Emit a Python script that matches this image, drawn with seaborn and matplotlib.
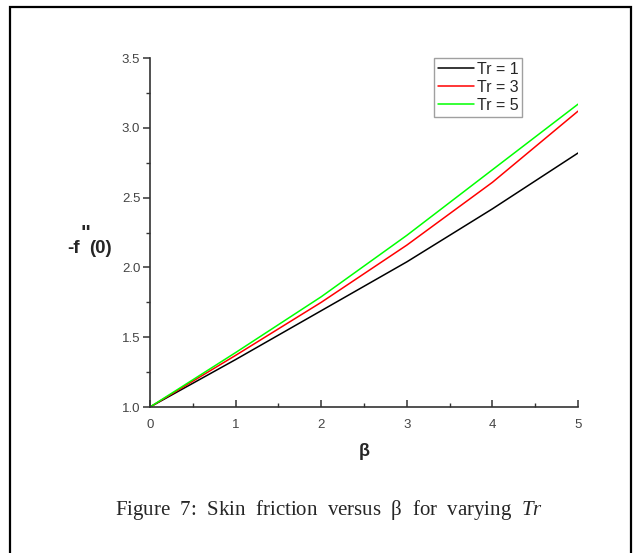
import numpy as np
import pandas as pd
import seaborn as sns
import matplotlib.pyplot as plt
from matplotlib.ticker import MultipleLocator
from matplotlib.patches import Rectangle

# values
beta = [0, 1, 2, 3, 4, 5]
tr1 = [1.00, 1.34, 1.69, 2.04, 2.42, 2.82]
tr3 = [1.00, 1.37, 1.75, 2.16, 2.61, 3.12]
tr5 = [1.00, 1.39, 1.79, 2.23, 2.70, 3.17]
labels = ['Tr = 1', 'Tr = 3', 'Tr = 5']
colors = ['#000000', '#ff0000', '#00ff00']

df = pd.concat([pd.DataFrame({'beta': beta, 'val': v, 'Tr': l})
                for v, l in zip([tr1, tr3, tr5], labels)])

sns.set_style('white')
plt.rcParams['font.family'] = ['Liberation Sans', 'DejaVu Sans']
plt.rcParams['mathtext.fontset'] = 'custom'
plt.rcParams['mathtext.rm'] = 'Liberation Serif'
plt.rcParams['mathtext.it'] = 'Liberation Serif:italic'

fig = plt.figure(figsize=(6.37, 5.53), dpi=100)
ax = fig.add_axes([0.2355, 0.264, 0.672, 0.631])

sns.lineplot(data=df, x='beta', y='val', hue='Tr', palette=colors,
             linewidth=1.1, ax=ax)

ax.set_xlim(0, 5)
ax.set_ylim(1.0, 3.5)
ax.xaxis.set_major_locator(MultipleLocator(1))
ax.xaxis.set_minor_locator(MultipleLocator(0.5))
ax.yaxis.set_major_locator(MultipleLocator(0.5))
ax.yaxis.set_minor_locator(MultipleLocator(0.25))
ax.yaxis.set_major_formatter(plt.FormatStrFormatter('%.1f'))

for s in ['top', 'right']:
    ax.spines[s].set_visible(False)
for s in ['left', 'bottom']:
    ax.spines[s].set_color('#333333')
    ax.spines[s].set_linewidth(1.2)

ax.tick_params(axis='x', which='major', direction='in', length=5, width=1.1,
               labelsize=9.5, labelcolor='#444444', color='#333333', pad=8.5,
               bottom=True)
ax.tick_params(axis='x', which='minor', direction='in', length=3, width=1.0,
               color='#333333', bottom=True)
ax.tick_params(axis='y', which='major', direction='out', length=5, width=1.1,
               labelsize=9.5, labelcolor='#444444', color='#333333', pad=2,
               left=True)
ax.tick_params(axis='y', which='minor', direction='out', length=3, width=1.0,
               color='#333333', left=True)

ax.set_xlabel('β', fontsize=13, fontweight='bold', labelpad=9)
ax.set_ylabel('')

# y label: -f''(0), built from pieces so the primes sit high
fig.text(0.105, 0.5425, '-f', fontsize=13.5, fontweight='bold', ha='left', va='baseline')
fig.text(0.126, 0.568, '"', fontsize=15, fontweight='bold', ha='left', va='baseline')
fig.text(0.140, 0.5425, '(0)', fontsize=13.5, fontweight='bold', ha='left', va='baseline')

leg = ax.legend(loc='upper left', bbox_to_anchor=(0.664, 1.0), fontsize=11.5,
                frameon=True, fancybox=False, handlelength=2.25,
                handletextpad=0.15, borderpad=0.25, labelspacing=0.18,
                borderaxespad=0)
leg.get_frame().set_edgecolor('#888888')
leg.get_frame().set_linewidth(1.0)
for line in leg.get_lines():
    line.set_linewidth(1.1)

fig.text(0.517, 0.078,
         r'Figure  7:  Skin  friction  versus  β  for  varying  $\mathit{Tr}$',
         family='Liberation Serif', fontsize=15, ha='center', va='center')

# page frame
fig.patches.append(Rectangle((0.016, -0.01), 0.974, 0.998,
                             transform=fig.transFigure, fill=False,
                             edgecolor='black', linewidth=1.6))

fig.savefig('out.png', dpi=100)
